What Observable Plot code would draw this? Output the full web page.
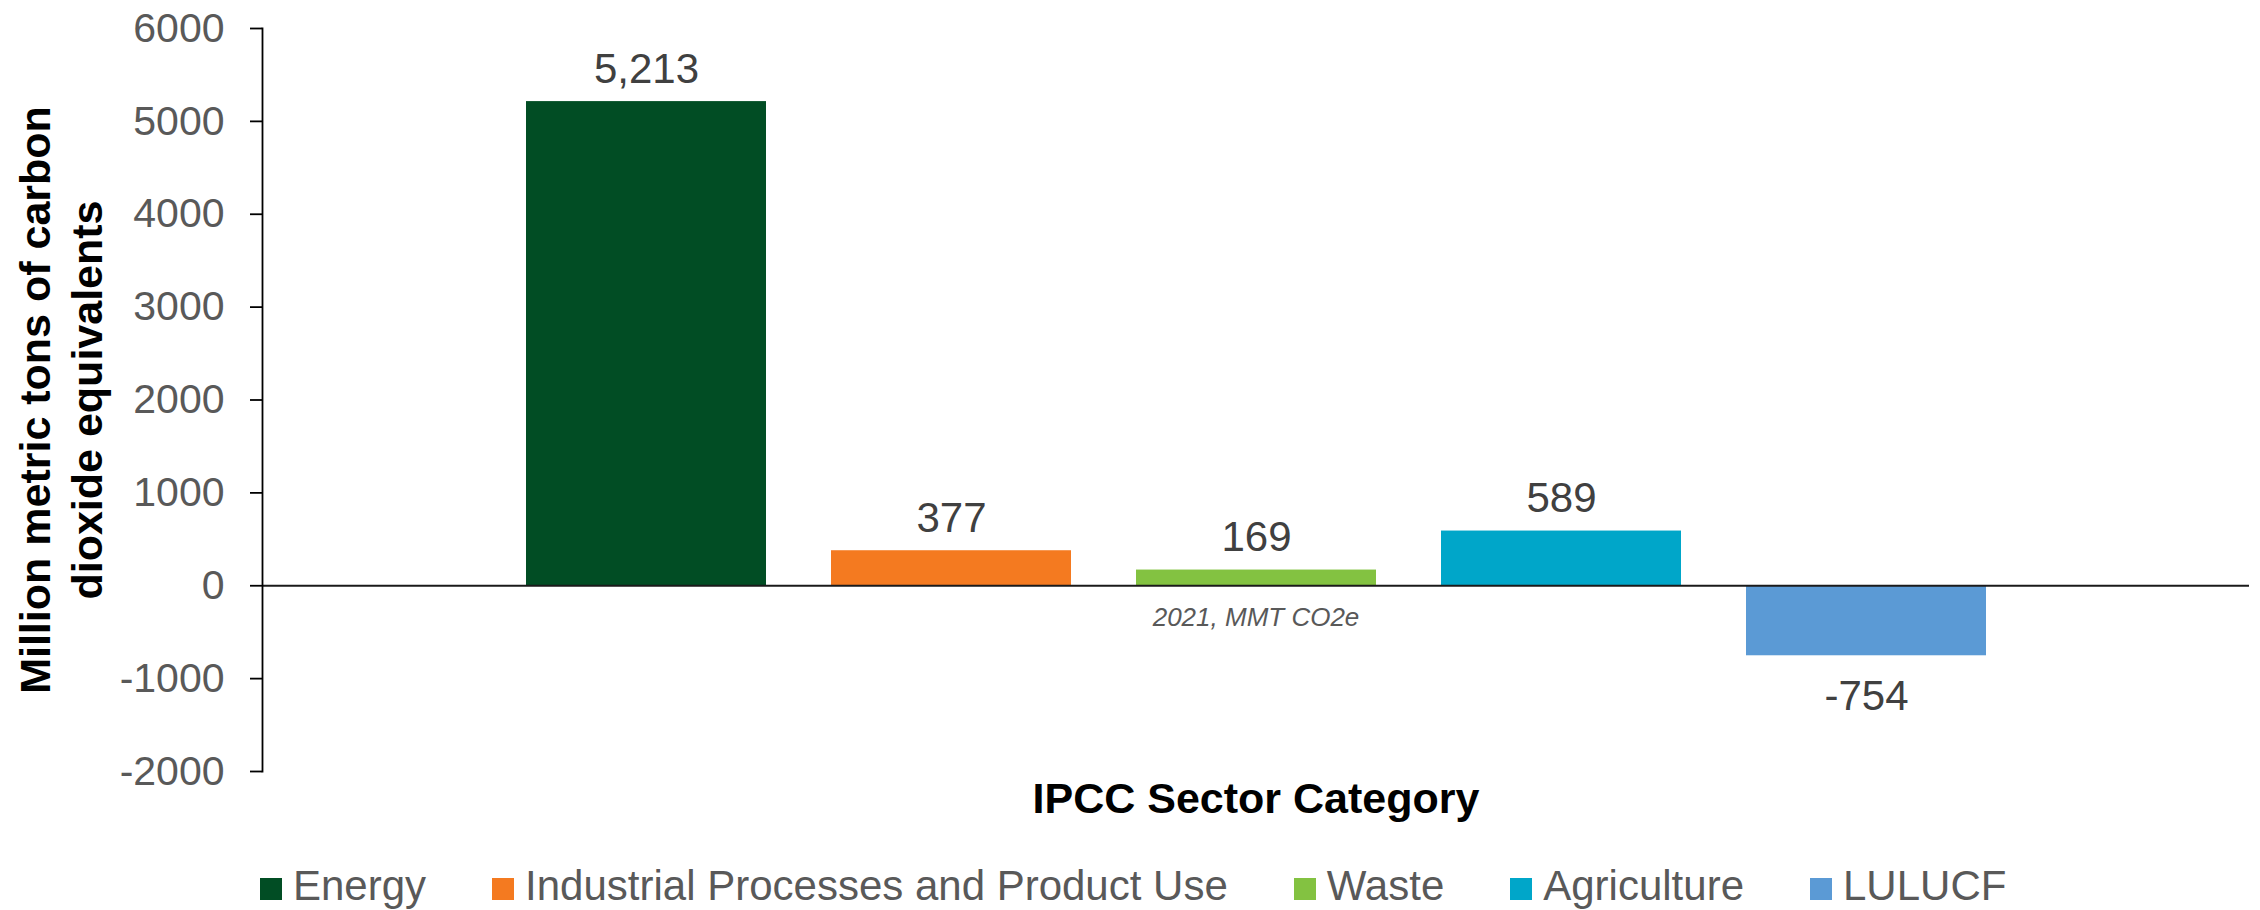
<!DOCTYPE html>
<html>
<head>
<meta charset="utf-8">
<script src="https://cdn.jsdelivr.net/npm/d3@7"></script>
<script src="https://cdn.jsdelivr.net/npm/@observablehq/plot@0.6"></script>
<style>
  body { margin: 0; background: #fff; font-family: "Liberation Sans", Arial, sans-serif; }
  #legend { display: flex; margin-top: 21px; padding-left: 260px; height: 50px; line-height: 50px; font-size: 42px; color: #595959; white-space: nowrap; }
  #legend .item { display: flex; align-items: flex-start; margin-right: 66px; }
  #legend .sw { width: 22px; height: 22px; margin-top: 17px; margin-right: 11px; flex: none; }
</style>
</head>
<body>
<div id="chart"></div>
<div id="legend"></div>
<script>
const sectors = ["Energy", "Industrial Processes and Product Use", "Waste", "Agriculture", "LULUCF"];
const values = [5213, 377, 169, 589, -754];
const colors = ["#014D24", "#F47A20", "#83C241", "#00A6C9", "#5B9AD5"];
const yTicks = [-2000, -1000, 0, 1000, 2000, 3000, 4000, 5000, 6000];
const categoryLabel = ["2021, MMT CO2e"];
const yTitle = ["Million metric tons of carbon\ndioxide equivalents"];
const xTitle = ["IPCC Sector Category"];

const data = sectors.map((s, i) => ({sector: s, value: values[i]}));
const fmt = v => v.toLocaleString("en-US");

const chart = Plot.plot({
  width: 2260,
  height: 840,
  marginLeft: 262,
  marginRight: 11,
  marginTop: 28,
  marginBottom: 69,
  style: {fontFamily: "'Liberation Sans', Arial, sans-serif", background: "#fff", color: "#000", overflow: "visible"},
  x: {domain: sectors, range: [461, 2051], padding: 0.213, axis: null},
  y: {domain: [-2000, 6000], axis: null},
  color: {domain: sectors, range: colors},
  marks: [
    Plot.barY(data, {x: "sector", y: "value", fill: "sector"}),
    Plot.ruleY([0], {stroke: "#1a1a1a", strokeWidth: 2}),
    Plot.frame({anchor: "left", stroke: "#000", strokeWidth: 1.8}),
    Plot.axisY(yTicks, {
      tickFormat: d => String(d), tickSize: 12, tickPadding: 26,
      fontSize: 41, fill: "#595959", stroke: "#000", strokeWidth: 1.8, label: null
    }),
    Plot.text(data.filter(d => d.value >= 0), {
      x: "sector", y: "value", text: d => fmt(d.value),
      lineAnchor: "bottom", dy: -19, fontSize: 42, fill: "#404040"
    }),
    Plot.text(data.filter(d => d.value < 0), {
      x: "sector", y: "value", text: d => fmt(d.value),
      lineAnchor: "top", dy: 24, fontSize: 42, fill: "#404040"
    }),
    Plot.text(categoryLabel, {
      y: () => 0, frameAnchor: "middle", text: d => d, textAnchor: "middle", lineAnchor: "middle",
      dy: 32, fontSize: 26, fontStyle: "italic", fill: "#595959"
    }),
    Plot.text(xTitle, {
      frameAnchor: "bottom", text: d => d, textAnchor: "middle", lineAnchor: "middle",
      dy: 28, fontSize: 43, fontWeight: "bold", fill: "#000"
    }),
    Plot.text(yTitle, {
      frameAnchor: "left", text: d => d, textAnchor: "middle", lineAnchor: "middle",
      rotate: -90, dx: -203, fontSize: 43, fontWeight: "bold", lineHeight: 1.21, fill: "#000"
    })
  ]
});
document.getElementById("chart").appendChild(chart);

const legend = d3.select("#legend");
sectors.forEach((s, i) => {
  const item = legend.append("div").attr("class", "item");
  item.append("div").attr("class", "sw").style("background", colors[i]);
  item.append("span").text(s);
});
</script>
</body>
</html>
